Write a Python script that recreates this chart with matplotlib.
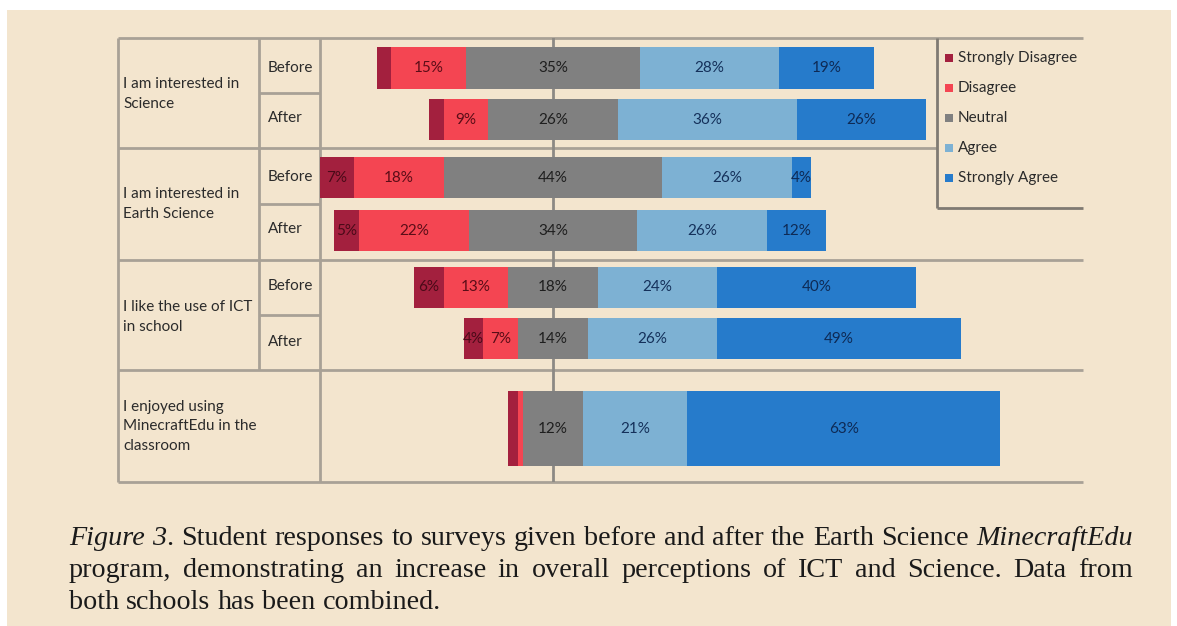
import matplotlib
matplotlib.use("Agg")
import matplotlib.pyplot as plt
from matplotlib.patches import Rectangle
import numpy as np

W, H = 1177, 626

# ---------------- data ----------------
questions = ["I am interested in\nScience",
             "I am interested in\nEarth Science",
             "I like the use of ICT\nin school",
             "I enjoyed using\nMinecraftEdu in the\nclassroom"]
phases = ["Before", "After"]
responses = ["Strongly Disagree", "Disagree", "Neutral", "Agree", "Strongly Agree"]
# rows: Sci-Before, Sci-After, Earth-Before, Earth-After, ICT-Before, ICT-After, Minecraft
strongly_disagree = [3, 3, 7, 5, 6, 4, 2]
disagree = [15, 9, 18, 22, 13, 7, 1]
neutral = [35, 26, 44, 34, 18, 14, 12]
agree = [28, 36, 26, 26, 24, 26, 21]
strongly_agree = [19, 26, 4, 12, 40, 49, 63]

colors = ["#A3203E", "#F44552", "#808080", "#7DB1D3", "#267BCB"]
text_colors = ["#4a0a18", "#5a0d17", "#1e1e1e", "#14305a", "#0e2a55"]

caption_lines = [
    [[("Figure", True)], [("3", True), (".", False)], [("Student", False)], [("responses", False)],
     [("to", False)], [("surveys", False)], [("given", False)], [("before", False)], [("and", False)],
     [("after", False)], [("the", False)], [("Earth", False)], [("Science", False)], [("MinecraftEdu", True)]],
    [[(w, False)] for w in "program, demonstrating an increase in overall perceptions of ICT and Science. Data from".split()],
    [[(w, False)] for w in "both schools has been combined.".split()],
]

# ---------------- figure ----------------
fig = plt.figure(figsize=(W / 100, H / 100), dpi=100)
fig.patch.set_facecolor("white")

bg = fig.add_axes([0, 0, 1, 1], zorder=0)
bg.set_xlim(0, W)
bg.set_ylim(H, 0)
bg.axis("off")
bg.add_patch(Rectangle((7, 10), 1164, 616, facecolor="#F3E5CE", edgecolor="none"))

line_kw = dict(color="#A8A196", lw=2, solid_capstyle="butt")
# outer/table lines
bg.plot([118, 1083], [38, 38], **line_kw)
bg.plot([118, 937], [148, 148], **line_kw)
bg.plot([118, 1083], [260, 260], **line_kw)
bg.plot([118, 1083], [370, 370], **line_kw)
bg.plot([118, 1083], [482, 482], **line_kw)
bg.plot([118, 118], [38, 482], **line_kw)
bg.plot([259, 259], [38, 370], **line_kw)
bg.plot([320, 320], [38, 482], **line_kw)
bg.plot([259, 320], [93, 93], **line_kw)
bg.plot([259, 320], [204, 204], **line_kw)
bg.plot([259, 320], [315, 315], **line_kw)
# legend box
bg.plot([937, 937], [38, 208], color="#7f7a72", lw=2, solid_capstyle="butt")
bg.plot([937, 1083], [208, 208], color="#7f7a72", lw=2, solid_capstyle="butt")

font = "Lato"
fs = 11
# question labels
group_centers = [94, 204, 317, 426]
for q, yc in zip(questions, group_centers):
    bg.text(123, yc, q, ha="left", va="center", fontsize=fs, family=font,
            color="#2b2b2b", linespacing=1.5)
# before/after labels
phase_y = [68, 118, 177, 229, 286, 342]
for i, yv in enumerate(phase_y):
    bg.text(268, yv, phases[i % 2], ha="left", va="center", fontsize=fs,
            family=font, color="#2b2b2b")

# legend
for k, (lab, c) in enumerate(zip(responses, colors)):
    yy = 58 + 30 * k
    bg.add_patch(Rectangle((945, yy - 4.5), 8, 8, facecolor=c, edgecolor="none"))
    bg.text(958, yy, lab, ha="left", va="center", fontsize=fs, family=font, color="#2b2b2b")

# ---------------- bars ----------------
px_per_pct = 4.97
cx = 553
x_left = 320
x_right = 1083
ax = fig.add_axes([x_left / W, 1 - 482 / H, (x_right - x_left) / W, (482 - 38) / H], zorder=1)
ax.patch.set_alpha(0)
ax.set_xlim((x_left - cx) / px_per_pct, (x_right - cx) / px_per_pct)
ax.set_ylim(4, 0)
ax.axis("off")
ax.axvline(0, color="#8c8984", lw=2, zorder=1)

# bar y positions (in group units) and heights
bar_y = [0.27, 0.735, 1.26, 1.735, 2.245, 2.71, 3.52]
bar_h = [0.37, 0.37, 0.37, 0.37, 0.37, 0.37, 0.68]

series = [strongly_disagree, disagree, neutral, agree, strongly_agree]
for r in range(len(bar_y)):
    vals = [s[r] for s in series]
    start = -(vals[0] + vals[1] + vals[2] / 2.0)
    left = start
    for k, v in enumerate(vals):
        ax.barh(bar_y[r], v, left=left, height=bar_h[r], color=colors[k],
                edgecolor="none", zorder=2)
        if v >= 4:
            ax.text(left + v / 2.0, bar_y[r], f"{v}%", ha="center", va="center",
                    fontsize=fs, family=font, color=text_colors[k], zorder=3)
        left += v

# ---------------- caption ----------------
cap_fs = 20
cap_font = "Liberation Serif"
x0, x1 = 69, 1133
baselines = [545, 577, 609]
fig.canvas.draw()
renderer = fig.canvas.get_renderer()


def make_word(word, size):
    objs = []
    for txt, it in word:
        t = fig.text(0, 0, txt, fontsize=size, family=cap_font,
                     style="italic" if it else "normal", color="#1a1a1a",
                     ha="left", va="baseline")
        objs.append(t)
    return objs


# measure natural width of first line to fit the size
tmp = []
total = 0
for word in caption_lines[0]:
    for t in make_word(word, cap_fs):
        total += t.get_window_extent(renderer).width
        tmp.append(t)
sp = fig.text(0, 0, "a a", fontsize=cap_fs, family=cap_font)
sp2 = fig.text(0, 0, "aa", fontsize=cap_fs, family=cap_font)
space_w = sp.get_window_extent(renderer).width - sp2.get_window_extent(renderer).width
total += space_w * (len(caption_lines[0]) - 1)
for t in tmp + [sp, sp2]:
    t.remove()
cap_size = cap_fs * (x1 - x0) / total * 0.995
space_w *= cap_size / cap_fs

for li, (words, yb) in enumerate(zip(caption_lines, baselines)):
    word_objs = [make_word(w, cap_size) for w in words]
    widths = [[t.get_window_extent(renderer).width for t in objs] for objs in word_objs]
    wsum = sum(sum(w) for w in widths)
    justify = li < 2
    gap = (x1 - x0 - wsum) / (len(words) - 1) if justify else space_w
    x = x0
    for objs, ws in zip(word_objs, widths):
        for t, w in zip(objs, ws):
            t.set_position((x / W, 1 - yb / H))
            x += w
        x += gap

fig.savefig("out.png", dpi=100, facecolor=fig.get_facecolor())
